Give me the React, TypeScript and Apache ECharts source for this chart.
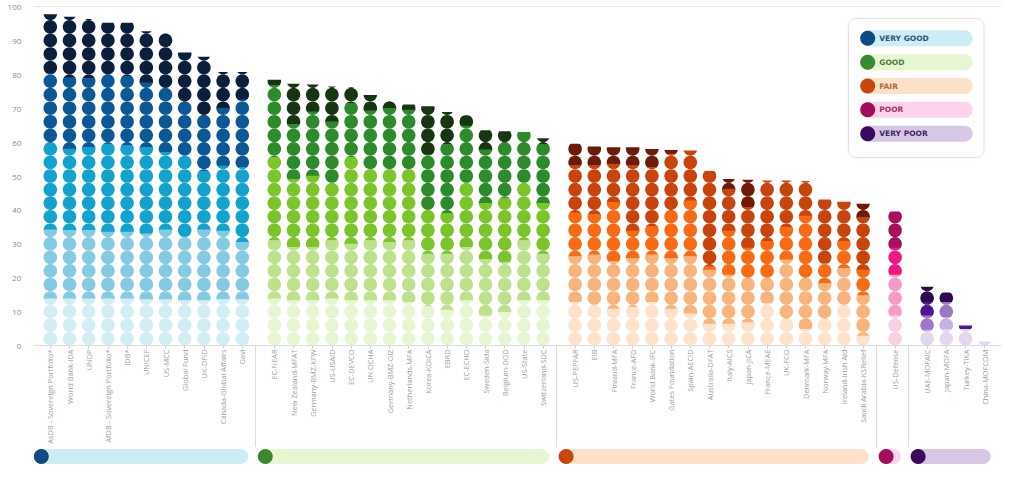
import React, { useEffect, useRef } from 'react';
import * as echarts from 'echarts';

// ---------- DATA ----------
const veryGoodDonors = ['AsDB - Sovereign Portfolio*', 'World Bank-IDA', 'UNDP', 'AfDB - Sovereign Portfolio*', 'IDB*', 'UNICEF', 'US-MCC', 'Global Fund', 'UK-DFID', 'Canada-Global Affairs', 'Gavi'];
const goodDonors = ['EC-NEAR', 'New Zealand-MFAT', 'Germany-BMZ-KFW', 'US-USAID', 'EC-DEVCO', 'UN OCHA', 'Germany-BMZ-GIZ', 'Netherlands-MFA', 'Korea-KOICA', 'EBRD', 'EC-ECHO', 'Sweden-Sida', 'Belgium-DGD', 'US-State', 'Switzerland-SDC'];
const fairDonors = ['US-PEPFAR', 'EIB', 'Finland-MFA', 'France-AFD', 'World Bank-IFC', 'Gates Foundation', 'Spain-AECID', 'Australia-DFAT', 'Italy-AICS', 'Japan-JICA', 'France-MEAE', 'UK-FCO', 'Denmark-MFA', 'Norway-MFA', 'Ireland-Irish Aid', 'Saudi Arabia-KSRelief'];
const poorDonors = ['US-Defense'];
const veryPoorDonors = ['UAE-MOFAIC', 'Japan-MOFA', 'Turkey-TIKA', 'China-MOFCOM'];

const ratingLabels = ['VERY GOOD', 'GOOD', 'FAIR', 'POOR', 'VERY POOR'];
const yTicks = [0, 10, 20, 30, 40, 50, 60, 70, 80, 90, 100];

// overall score (top of each column)
const score = [
  97.7, 97, 96.3, 95.2, 95.2, 92.7, 92, 86.4, 85.2, 80.7, 80.7,
  78.4, 77.2, 77, 76.4, 76.2, 73.9, 72.1, 71.1, 70.6, 68.9, 67.9, 63.5, 63.2, 63, 61.1,
  59.5, 58.7, 58.5, 58.5, 58, 57.7, 57.5, 51.5, 49.1, 48.9, 48.7, 48.7, 48.5, 43.1, 42.4, 41.8,
  39.5,
  17.3, 15.6, 5.9, 1.2,
];
// cumulative top of the 4th band (darker shade)
const band4Top = [
  80.1, 78.9, 78.7, 79.9, 79.4, 77.4, 75.9, 71.9, 67.7, 69.9, 72.4,
  76.7, 65.2, 68.9, 65.9, 71.3, 69.2, 69.9, 69.4, 56.2, 59.2, 64.7, 57.7, 59.7, 63, 59.2,
  53, 53, 53.5, 53, 52.5, 56.5, 57.5, 51.5, 46.1, 40.7, 48.7, 48.7, 48.5, 43.1, 42.4, 37.7,
  39.5,
  12.7, 12.7, 5.9, 1.2,
];
// cumulative top of the 3rd band (middle shade)
const band3Top = [
  59.7, 57.9, 58.4, 59.4, 58.9, 58.4, 56.9, 55.9, 51.4, 52.9, 52.4,
  55.4, 48.9, 49.9, 47.9, 55.4, 51.9, 51.9, 51.9, 39.9, 38.9, 47.9, 41.9, 43.4, 47.9, 41.9,
  39.1, 38.6, 42.1, 33.7, 35.1, 39.6, 42.6, 23.2, 33.7, 28.7, 30.7, 34.7, 38.1, 24.2, 30.7, 22.2,
  28.7,
  8.7, 12.7, 4.7, 1.2,
];
// cumulative top of the 2nd band (light shade)
const band2Top = [
  34.1, 33.9, 33.9, 33.4, 33.4, 32.9, 34.1, 31.9, 34.1, 33.7, 30.4,
  30.9, 28.9, 28.9, 30.9, 29.9, 30.9, 30.4, 30.9, 26.9, 26.9, 28.9, 25.4, 24.4, 30.9, 26.9,
  26.2, 26.7, 24.7, 25.7, 26.7, 25.7, 26.2, 22.2, 20.7, 19.7, 19.7, 25.2, 19.7, 18.2, 22.7, 14.7,
  20.7,
  4.5, 8.2, 4.7, 1.2,
];
// top of the 1st band (lightest shade)
const band1Top = [
  13.7, 13.7, 13.7, 13.7, 13.7, 13.5, 13.5, 13.2, 13.2, 13.5, 13.5,
  13.7, 13.2, 13.2, 13.7, 13.2, 13.2, 13.2, 12.7, 11.4, 10.4, 13.2, 8.7, 9.7, 13.2, 13.2,
  12.7, 11.7, 10.7, 11.2, 12.7, 10.7, 9.3, 6.3, 6.3, 6.7, 12.3, 7.7, 4.7, 7.7, 11.7, 2.7,
  8.7,
  4, 4.7, 4.7, 1.2,
];

// ---------- STYLE ----------
const palettes = [
  ['#d3edf5', '#84cae2', '#11a2cd', '#0c5897', '#0b1e3b'],
  ['#e7f5d2', '#bee18d', '#7bc429', '#2e8b2b', '#173512'],
  ['#fde3cc', '#f7b47c', '#f96b12', '#c8440c', '#6d1a09'],
  ['#f9d0e4', '#f49bc6', '#ed1a86', '#a80f5d', '#720a42'],
  ['#e3d7ef', '#c6b1df', '#9b78c3', '#4d1690', '#2c0a4d'],
];
const pillColors = ['#cdedf4', '#e6f6d3', '#fde2c9', '#fcd3ea', '#d8c6e5'];
const dotColors = ['#0d4b82', '#398a2d', '#c9460f', '#a10f5c', '#3a0a5c'];
const legendTextColors = ['#2e5478', '#4b7b3b', '#b4643c', '#a2326f', '#3d2a5e'];

const CIRCLES = 25;
const SLOT_COUNT = 151;
const FONT = '"Open Sans", "DejaVu Sans", sans-serif';

const groups = [veryGoodDonors, goodDonors, fairDonors, poorDonors, veryPoorDonors];
type Col = { name: string; g: number; slot: number };
const columns: Col[] = [];
{
  let k = 0;
  groups.forEach((names, g) => {
    names.forEach((name) => {
      columns.push({ name, g, slot: 2 + 3 * k + 2 * g });
      k++;
    });
  });
}
const slotNames: string[] = Array.from({ length: SLOT_COUNT }, (_, i) => `gap-${i}`);
const isColSlot: boolean[] = Array.from({ length: SLOT_COUNT }, () => false);
columns.forEach((c) => {
  slotNames[c.slot] = c.name;
  isColSlot[c.slot] = true;
});

const seriesData = columns.map((c, i) => [c.slot, band1Top[i], band2Top[i], band3Top[i], band4Top[i], score[i], c.g]);

const renderItem = (params: any, api: any) => {
  const slot = api.value(0);
  const g = api.value(6);
  const pal = palettes[g];
  const bounds = [0, api.value(1), api.value(2), api.value(3), api.value(4), api.value(5)];
  const top = bounds[5];
  const base = api.coord([slot, 0]);
  const cx = base[0];
  const y0 = base[1];
  const y100 = api.coord([slot, 100])[1];
  const pitch = (y0 - y100) / CIRCLES;
  const r = 6.8;
  const children: any[] = [];
  for (let t = 4; t >= 0; t--) {
    const lo = bounds[t];
    const hi = bounds[t + 1];
    if (!(hi > lo)) continue;
    const yLo = t === 0 ? y0 + 2 : api.coord([slot, lo])[1];
    let yHi = api.coord([slot, hi])[1];
    if (hi < top) yHi -= 0.5;
    for (let k = 0; k < CIRCLES; k++) {
      const cy = y0 - (k + 0.5) * pitch;
      if (cy + r <= yHi || cy - r >= yLo) continue;
      const inside = cy - r >= yHi && cy + r <= yLo;
      const c: any = { type: 'circle', shape: { cx, cy, r }, style: { fill: pal[t] } };
      if (!inside) {
        c.clipPath = { type: 'rect', shape: { x: cx - r - 1, y: yHi, width: 2 * r + 2, height: yLo - yHi } };
      }
      children.push(c);
    }
  }
  return { type: 'group', children };
};

export default function App() {
  const ref = useRef<HTMLDivElement>(null);
  useEffect(() => {
    const el = ref.current;
    if (!el) return;
    const chart = echarts.init(el, undefined, { renderer: 'svg' });
    chart.setOption({
      animation: false,
      textStyle: { fontFamily: FONT },
      grid: { left: 34.3, right: 23.3, top: 6.5, bottom: 132.5, containLabel: false, outerBoundsMode: 'none' },
      xAxis: [
        {
          type: 'category',
          data: slotNames,
          boundaryGap: true,
          axisLine: { show: true, lineStyle: { color: '#dddddd', width: 1 } },
          axisTick: {
            show: true,
            alignWithLabel: true,
            length: 3,
            interval: (i: number) => isColSlot[i],
            lineStyle: { color: '#cccccc' },
          },
          axisLabel: {
            show: true,
            interval: (i: number) => isColSlot[i],
            rotate: 90,
            margin: 4,
            fontSize: 7.4,
            color: '#a0a0a0',
            fontFamily: FONT,
          },
          splitLine: { show: false },
        },
        {
          type: 'category',
          data: slotNames,
          position: 'top',
          axisLine: { show: true, lineStyle: { color: '#e6e6e6', width: 1 } },
          axisTick: { show: false },
          axisLabel: { show: false },
          splitLine: { show: false },
        },
      ],
      yAxis: {
        type: 'value',
        min: yTicks[0],
        max: yTicks[yTicks.length - 1],
        interval: 10,
        axisLine: { show: false },
        axisTick: { show: false },
        splitLine: { show: false },
        axisLabel: { color: '#8c8c8c', fontSize: 8, margin: 13, fontFamily: FONT },
      },
      series: [
        {
          type: 'custom',
          xAxisIndex: 0,
          renderItem,
          encode: { x: 0, y: 5 },
          data: seriesData,
          clip: false,
        },
      ],
    });

    const px = (slot: number) => chart.convertToPixel({ xAxisIndex: 0 }, slot) as unknown as number;
    const graphics: any[] = [];
    const groupRanges = groups.map((_, g) => {
      const cols = columns.filter((c) => c.g === g);
      return { first: cols[0].slot, last: cols[cols.length - 1].slot };
    });
    const axisY = 345.5;
    groupRanges.forEach((rg, g) => {
      const x1 = px(rg.first);
      const x2 = px(rg.last);
      if (g < groupRanges.length - 1) {
        const sx = Math.round(x2 + 13) + 0.5;
        graphics.push({ type: 'line', shape: { x1: sx, y1: axisY, x2: sx, y2: 447 }, style: { stroke: '#dcdcdc', lineWidth: 1 } });
      }
      const left = x1 - 16;
      const right = x2 + 6;
      graphics.push({ type: 'rect', shape: { x: left, y: 449, width: right - left, height: 15, r: 7.5 }, style: { fill: pillColors[g] } });
      graphics.push({ type: 'circle', shape: { cx: x1 - 9, cy: 456.5, r: 7.5 }, style: { fill: dotColors[g] } });
    });
    graphics.push({
      type: 'rect',
      shape: { x: 848.5, y: 18.5, width: 135.5, height: 139, r: 8 },
      style: { fill: '#ffffff', stroke: '#e2e2e2', lineWidth: 1, shadowBlur: 4, shadowColor: 'rgba(0,0,0,0.05)' },
      z: 10,
    });
    ratingLabels.forEach((lab, i) => {
      const cy = 38.3 + i * 23.85;
      graphics.push({ type: 'rect', shape: { x: 860.7, y: cy - 8, width: 112, height: 16, r: 8 }, style: { fill: pillColors[i] }, z: 11 });
      graphics.push({ type: 'circle', shape: { cx: 867.7, cy, r: 7.5 }, style: { fill: dotColors[i] }, z: 12 });
      graphics.push({
        type: 'text',
        x: 879.3,
        y: cy,
        style: {
          text: lab,
          fill: legendTextColors[i],
          fontSize: 7.5,
          fontWeight: 'bold',
          fontFamily: '"DejaVu Sans", sans-serif',
          verticalAlign: 'middle',
          align: 'left',
        },
        z: 12,
      });
    });
    chart.setOption({ graphic: graphics });

    return () => chart.dispose();
  }, []);
  return <div ref={ref} style={{ position: 'absolute', left: 0, top: 0, width: 1024, height: 478 }} />;
}
